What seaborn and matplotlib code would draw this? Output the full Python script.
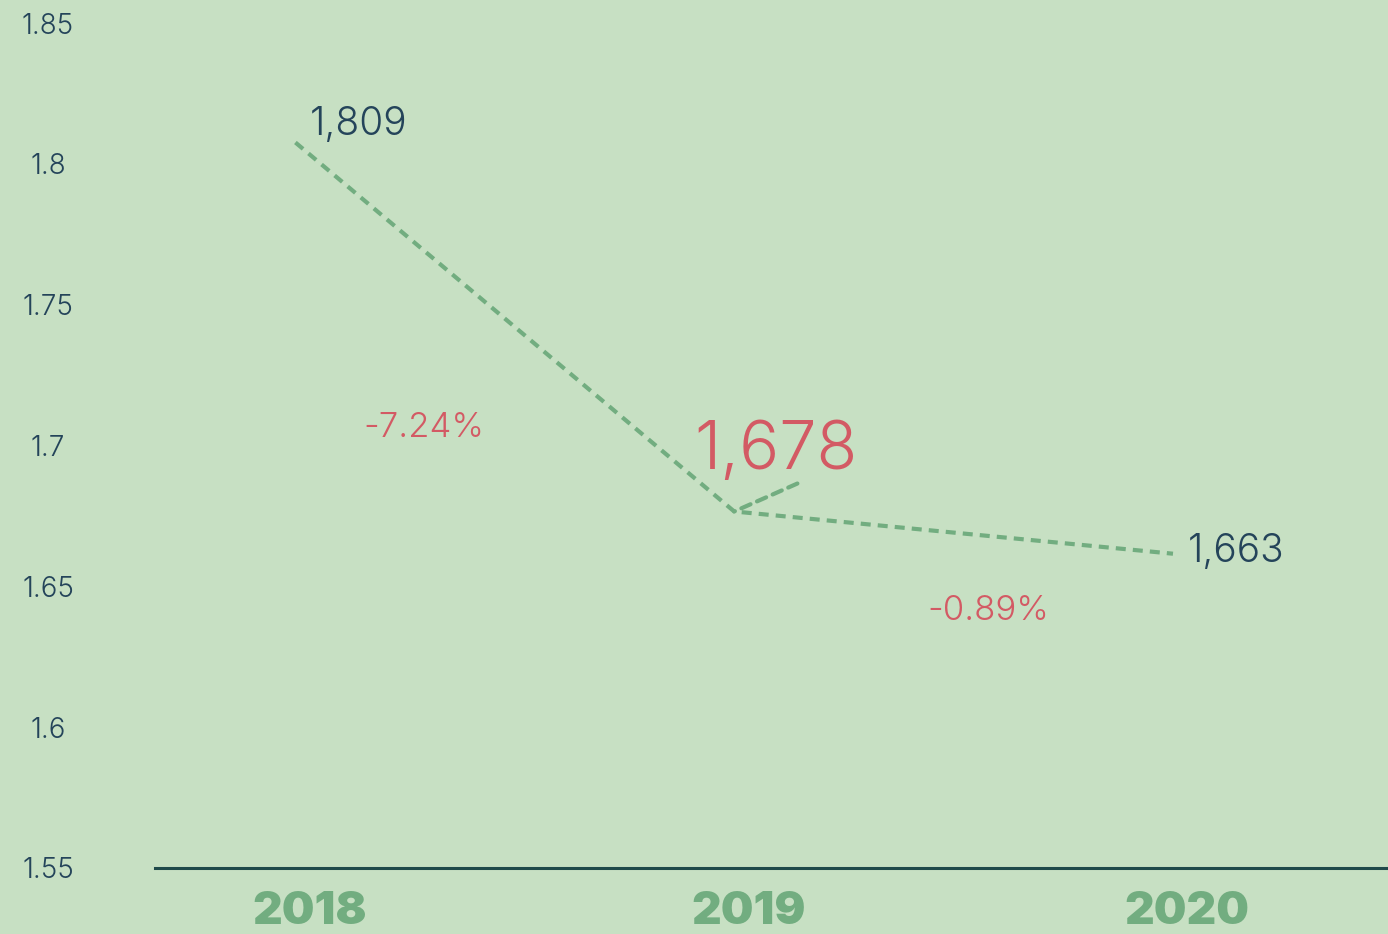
import pandas as pd
import matplotlib.pyplot as plt
import matplotlib.transforms as mtransforms
import seaborn as sns

years = ["2018", "2019", "2020"]
values = [1.809, 1.678, 1.663]
value_labels = ["1,809", "1,678", "1,663"]
change_labels = ["-7.24%", "-0.89%"]
y_ticks = [1.55, 1.6, 1.65, 1.7, 1.75, 1.8, 1.85]

bg = "#c7e0c3"
green = "#72ad80"
navy = "#24445a"
red = "#d35a64"

df = pd.DataFrame({"year": years, "value": values})

sns.set_style("white")
plt.rcParams["font.family"] = ["Inter", "DejaVu Sans"]

fig = plt.figure(figsize=(13.88, 9.34), dpi=100, facecolor=bg)
ax = fig.add_axes([155 / 1388, 66 / 934, 1 - 155 / 1388, (868 - 23) / 934])
ax.set_facecolor(bg)

# the line sits a few pixels lower than the tick grid in the original
drop = mtransforms.ScaledTranslation(0, -4 / 100, fig.dpi_scale_trans)

sns.lineplot(data=df, x="year", y="value", color=green, linewidth=3, ax=ax)
ax.lines[0].set_dashes((2.4, 1.7))
ax.lines[0].set_transform(ax.transData + drop)

ax.set_xlim(-0.32, 2.49)
ax.set_ylim(1.55, 1.85)
ax.set_yticks(y_ticks)
ax.set_yticklabels([f"{t:g}" for t in y_ticks], fontsize=20, fontweight=300, color=navy)
for lab in ax.get_yticklabels():
    lab.set_horizontalalignment("center")
ax.tick_params(axis="y", length=0, pad=77)
ax.tick_params(axis="x", length=0, pad=16.5)
ax.set_xticks(range(len(years)))
ax.set_xticklabels(years, fontsize=33, fontweight=900, color=green)
shift = mtransforms.ScaledTranslation(14 / 100, 0, fig.dpi_scale_trans)
for lab in ax.get_xticklabels():
    lab.set_transform(lab.get_transform() + shift)
ax.set_xlabel("")
ax.set_ylabel("")

for side in ["top", "left", "right"]:
    ax.spines[side].set_visible(False)
ax.spines["bottom"].set_color("#1f4a4a")
ax.spines["bottom"].set_linewidth(2.2)

# value labels
ax.text(0.032, 1.8138, value_labels[0], fontsize=28, fontweight=300, color=navy,
        ha="left", va="center")
ax.text(1.096, 1.6977, value_labels[1], fontsize=48, fontweight=300, color=red,
        ha="center", va="center")
ax.text(2.034, 1.6622, value_labels[2], fontsize=28, fontweight=300, color=navy,
        ha="left", va="center")

# leader for the highlighted point
leader = ax.annotate("", xy=(1, values[1]), xytext=(1.144, 1.6865),
                     arrowprops=dict(arrowstyle="-", color=green, lw=3,
                                     linestyle=(0, (2.4, 1.7)), shrinkA=0, shrinkB=0))
leader.xy = (1, values[1] - 4 / 2806)

# percent change labels
ax.text(0.292, 1.7062, change_labels[0], fontsize=25, fontweight=300, color=red,
        ha="center", va="center")
ax.text(1.58, 1.6412, change_labels[1], fontsize=25, fontweight=300, color=red,
        ha="center", va="center")

fig.savefig("out.png", dpi=100, facecolor=bg)
